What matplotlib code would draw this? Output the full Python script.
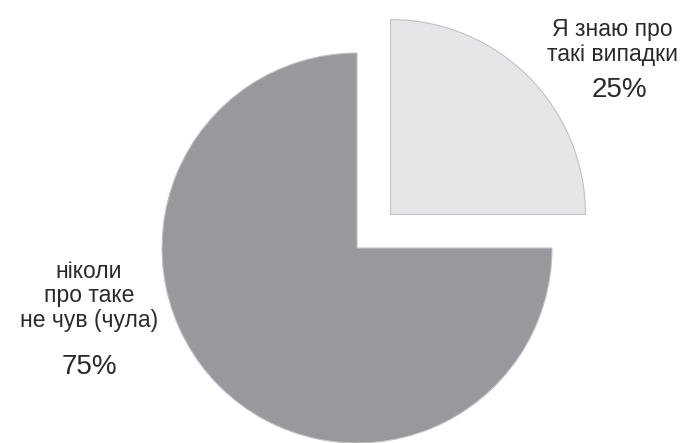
import matplotlib.pyplot as plt

# Arial-like font with Cyrillic glyphs
plt.rcParams['font.family'] = ['Liberation Sans', 'DejaVu Sans']

# data
labels = ['Я знаю про\nтакі випадки', 'ніколи\nпро таке\nне чув (чула)']
shares = [25, 75]
pct_labels = ['25%', '75%']
colors = ['#e6e6e8', '#98999d']

fig = plt.figure(figsize=(6.85, 4.43), dpi=100)
ax = fig.add_axes([0, 0, 1, 1])

wedges, _ = ax.pie(shares, colors=colors, startangle=90, counterclock=False,
                   explode=[0.243, 0], radius=1,
                   wedgeprops=dict(edgecolor='#c2c2c4', linewidth=0.8),
                   shadow=dict(ox=1.5, oy=-1.5, shade=0.3, alpha=0.45))

# frame so the pie sits where it does in the original
ax.set_xlim(-1.831, 1.682)
ax.set_ylim(-1.0, 1.272)
ax.set_aspect('equal')
ax.axis('off')

# slice labels
txt = dict(ha='center', va='center', color='#2a2a2a')
ax.text(1.308, 1.056, labels[0], fontsize=16.5, linespacing=1.1, **txt)
ax.text(1.344, 0.810, pct_labels[0], fontsize=20, **txt)
ax.text(-1.374, -0.246, labels[1], fontsize=16.5, linespacing=1.1, **txt)
ax.text(-1.374, -0.610, pct_labels[1], fontsize=20, **txt)

fig.savefig('out.png', dpi=100)
